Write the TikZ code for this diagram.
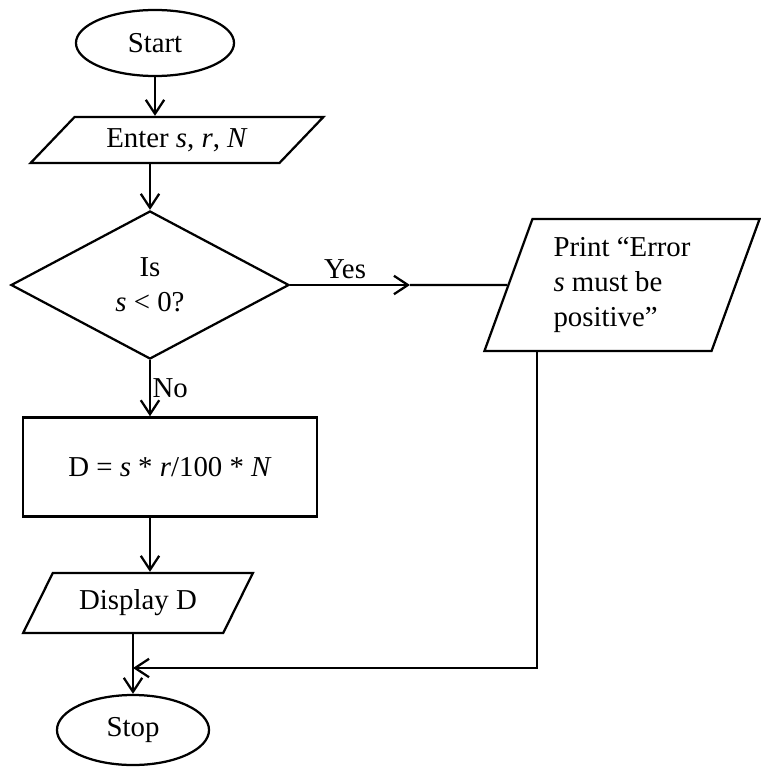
\documentclass[tikz,border=0pt]{standalone}
\usepackage{fontspec}
\setmainfont{Liberation Serif}
\usetikzlibrary{shapes.geometric,arrows.meta}

\begin{document}
\begin{tikzpicture}[x=0.025cm, y=-0.025cm, line width=1.6pt, >={Straight Barb[length=3.5mm,width=4.6mm]}]
\tikzset{noeud/.style={draw, inner sep=0pt, font=\fontsize{20.5}{25}\selectfont},
  terminal/.style={noeud, ellipse},
  para/.style 2 args={noeud, trapezium, trapezium stretches=true, trapezium left angle=#1, trapezium right angle=#2},
  boite/.style={noeud, rectangle},
  losange/.style={noeud, diamond}}
\useasboundingbox (0,0) rectangle (761,768);
\node[terminal, minimum width=3.95cm, minimum height=1.65cm] (Debut) at (155,43) {Start};
\node[para={37.5}{142.5}, minimum width=7.33cm, minimum height=1.15cm] (Lire) at (177,140) {Enter \textit{s}, \textit{r}, \textit{N}};
\node[losange, minimum width=6.95cm, minimum height=3.7cm, align=center] (Test) at (150,285) {Is\\\textit{s} < 0?};
\node[para={69}{111}, minimum width=6.88cm, minimum height=3.3cm, align=left] (Erreur) at (622,285) {Print “Error\\\textit{s} must be\\positive”};
\node[boite, minimum width=7.33cm, minimum height=2.48cm] (Calcul) at (170,467) {D = \textit{s} * \textit{r}/100 * \textit{N}};
\node[para={52}{128}, minimum width=5.75cm, minimum height=1.5cm] (Afficher) at (138,603) {Display D};
\node[terminal, minimum width=3.8cm, minimum height=1.75cm] (Fin) at (133,730) {Stop};
\coordinate (Oui) at (410,285);
\coordinate (Retour) at (537,668);
\draw[->] (Debut) -- (Debut |- Lire.north);
\draw[->] (Test.north |- Lire.south) -- (Test.north);
\draw[->] (Test.east) -- (Oui);
\draw (Oui) -- (Erreur.west);
\node[font=\fontsize{20.5}{25}\selectfont, above] (LOui) at (345,285) {Yes};
\draw[->] (Test.south) -- (Test.south |- Calcul.north) node[pos=0.5, right, inner sep=1pt, font=\fontsize{20.5}{25}\selectfont] (LNon) {No};
\draw[->] (Test.south |- Calcul.south) -- (Test.south |- Afficher.north);
\draw[->] (Fin.north |- Afficher.south) -- (Fin.north);
\draw[->] (Erreur.south -| Retour) -- (Retour) -- (Retour -| Fin.north);
\end{tikzpicture}
\end{document}
